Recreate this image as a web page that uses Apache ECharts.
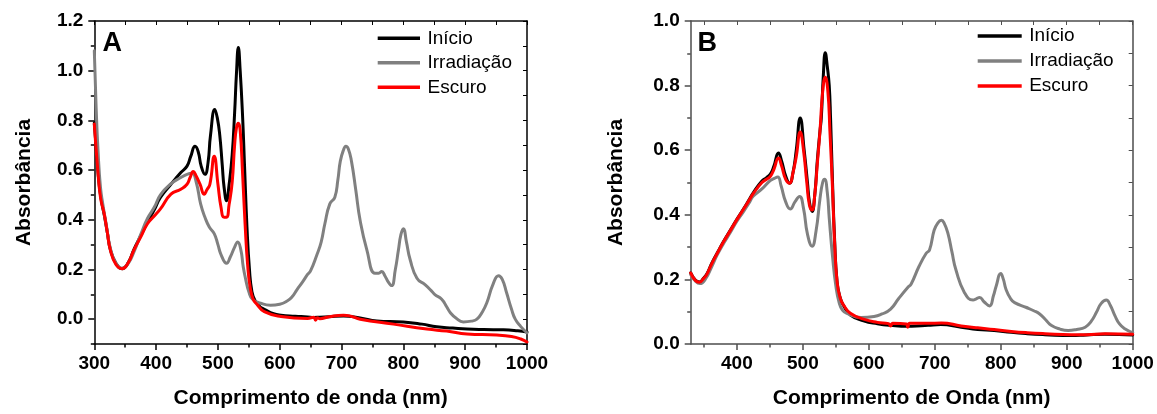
<!DOCTYPE html>
<html><head><meta charset="utf-8">
<script src="https://cdn.jsdelivr.net/npm/echarts@6/dist/echarts.min.js"></script>
<style>html,body{margin:0;padding:0;background:#fff}#c{width:1157px;height:414px}</style>
</head><body><div id="c"></div>
<script>
// ---------- DATA ----------
const seriesNames = ['Início', 'Irradiação', 'Escuro'];
const seriesColors = ['#000000', '#808080', '#ff0000'];
const panelLabels = ['A', 'B'];
const xTitles = ['Comprimento de onda (nm)', 'Comprimento de Onda (nm)'];
const yTitle = 'Absorbância';

// Panel A ticks
const aXMajor = [300, 400, 500, 600, 700, 800, 900, 1000];
const aXMinor = [350, 450, 550, 650, 750, 850, 950];
const aYMajor = [0, 0.2, 0.4, 0.6, 0.8, 1.0, 1.2];
const aYMinor = [-0.1, 0.1, 0.3, 0.5, 0.7, 0.9, 1.1];
// Panel B ticks
const bXMajor = [400, 500, 600, 700, 800, 900, 1000];
const bXMinor = [350, 450, 550, 650, 750, 850, 950];
const bYMajor = [0, 0.2, 0.4, 0.6, 0.8, 1.0];
const bYMinor = [0.1, 0.3, 0.5, 0.7, 0.9];

// Panel A - Início
const aInicioX = [300,304,308,312,316,321,326,335,345,355,364,375,386,397,407,424,440,450,456,463,468,473,479,484,488,495,499,503,507,510,514,518,523,527,530,533,536,540,543,547,551,555,560,568,575,590,602,625,645,655,665,680,703,730,757,800,830,854,880,903,930,962,985,1000];
const aInicioY = [0.79,0.66,0.54,0.47,0.42,0.35,0.28,0.225,0.203,0.228,0.28,0.335,0.39,0.44,0.49,0.543,0.59,0.616,0.655,0.696,0.675,0.615,0.583,0.63,0.74,0.844,0.81,0.74,0.62,0.53,0.477,0.54,0.66,0.83,0.99,1.093,1.0,0.81,0.62,0.37,0.2,0.11,0.075,0.05,0.04,0.022,0.016,0.012,0.009,0.007,0.008,0.01,0.013,0.005,-0.007,-0.011,-0.02,-0.031,-0.036,-0.04,-0.042,-0.043,-0.047,-0.052];
// Panel A - Irradiação
const aIrradX = [300,303,306,310,314,320,326,335,345,355,364,375,386,397,407,424,440,450,458,465,472,479,486,494,500,505,514,520,527,532,537,541,545,550,556,569,585,600,612,620,628,637,645,650,660,667,673,681,689,694,698,703,707,711,716,723,730,741,754,760,765,770,776,781,787,792,796,800,805,811,822,835,845,851,862,870,876,885,897,910,919,928,935,945,954,960,967,975,981,990,1000];
const aIrradY = [1.08,0.85,0.68,0.53,0.46,0.37,0.285,0.225,0.205,0.225,0.27,0.34,0.405,0.45,0.50,0.545,0.57,0.583,0.587,0.55,0.464,0.41,0.371,0.344,0.30,0.26,0.225,0.25,0.29,0.311,0.28,0.21,0.159,0.11,0.08,0.064,0.056,0.06,0.073,0.09,0.119,0.15,0.18,0.195,0.258,0.31,0.384,0.464,0.49,0.56,0.636,0.68,0.696,0.685,0.636,0.52,0.398,0.278,0.185,0.185,0.192,0.175,0.148,0.135,0.2,0.278,0.34,0.364,0.31,0.239,0.165,0.139,0.115,0.099,0.08,0.05,0.026,0.005,-0.011,-0.008,0.0,0.03,0.066,0.14,0.175,0.16,0.106,0.04,0.0,-0.03,-0.055];
// Panel A - Escuro
const aEscuroX = [300,305,310,316,321,326,335,345,355,364,375,386,397,407,424,440,450,455,460,465,471,478,482,487,494,500,505,510,514,518,523,527,530,533,536,540,544,548,552,557,563,575,602,645,655,658,661,665,680,703,715,730,784,838,870,903,951,975,990,1000];
const aEscuroY = [0.785,0.62,0.49,0.424,0.35,0.278,0.22,0.203,0.228,0.278,0.33,0.384,0.415,0.444,0.503,0.523,0.543,0.57,0.594,0.575,0.543,0.503,0.52,0.543,0.656,0.543,0.45,0.41,0.41,0.46,0.55,0.70,0.77,0.788,0.76,0.58,0.38,0.22,0.13,0.08,0.06,0.03,0.011,0.003,0.008,-0.004,0.006,0.002,0.01,0.016,0.012,0.0,-0.02,-0.04,-0.048,-0.06,-0.064,-0.07,-0.08,-0.092];

// Panel B - Início
const bInicioX = [330,337,343,350,354,362,370,380,390,400,410,418,425,438,445,451,456,463,468,474,480,485,490,496,502,507,510,514,518,522,526,528,531,534,537,540,542,545,548,552,557,562,572,592,613,633,659,665,690,709,740,765,790,816,840,867,907,930,958,1000];
const bInicioY = [0.22,0.198,0.192,0.205,0.215,0.25,0.281,0.318,0.352,0.386,0.418,0.445,0.469,0.505,0.515,0.527,0.55,0.591,0.565,0.52,0.498,0.53,0.60,0.70,0.60,0.50,0.44,0.41,0.46,0.57,0.66,0.70,0.83,0.902,0.86,0.80,0.70,0.50,0.33,0.19,0.14,0.118,0.09,0.072,0.063,0.058,0.055,0.055,0.058,0.06,0.052,0.045,0.042,0.036,0.032,0.029,0.026,0.028,0.03,0.028];
// Panel B - Irradiação
const bIrradX = [330,337,344,352,362,370,380,390,400,410,418,425,438,450,456,462,467,474,481,488,495,501,507,514,520,526,530,533,537,540,545,550,555,560,567,588,608,620,633,645,659,664,676,687,692,699,704,710,714,720,726,732,745,758,763,768,775,783,789,793,800,804,808,815,821,839,850,859,868,877,890,902,915,928,937,945,952,960,966,973,980,988,1000];
const bIrradY = [0.215,0.195,0.187,0.2,0.24,0.275,0.312,0.345,0.38,0.41,0.435,0.458,0.48,0.505,0.512,0.517,0.49,0.44,0.418,0.44,0.457,0.42,0.34,0.303,0.35,0.45,0.50,0.51,0.47,0.39,0.271,0.18,0.128,0.105,0.095,0.082,0.085,0.093,0.108,0.14,0.175,0.185,0.24,0.281,0.291,0.352,0.373,0.383,0.375,0.342,0.285,0.23,0.159,0.136,0.14,0.144,0.13,0.118,0.15,0.179,0.218,0.2,0.169,0.14,0.128,0.113,0.103,0.093,0.075,0.057,0.046,0.042,0.045,0.052,0.07,0.098,0.125,0.136,0.12,0.088,0.062,0.047,0.035];
// Panel B - Escuro
const bEscuroX = [330,337,343,350,354,362,370,380,390,400,410,418,425,438,445,451,456,463,468,474,480,485,490,496,501,506,510,514,518,522,526,530,534,538,541,545,548,552,557,562,572,592,613,630,633,636,657,659,662,690,710,740,765,790,816,840,867,907,930,958,1000];
const bEscuroY = [0.22,0.197,0.191,0.204,0.214,0.249,0.28,0.317,0.351,0.385,0.417,0.443,0.466,0.5,0.51,0.52,0.54,0.576,0.55,0.51,0.498,0.53,0.58,0.656,0.60,0.50,0.43,0.415,0.46,0.56,0.66,0.78,0.826,0.78,0.66,0.48,0.32,0.19,0.14,0.12,0.095,0.077,0.067,0.063,0.056,0.064,0.062,0.052,0.064,0.064,0.065,0.056,0.05,0.045,0.039,0.035,0.032,0.029,0.029,0.032,0.03];

// ---------- CHART ----------
const FONT = '"Liberation Sans", Arial, sans-serif';
const zip = (xs, ys) => xs.map((x, i) => [x, ys[i]]);

const grids = [
  { left: 94.3, top: 21, width: 432.7, height: 327.3 },
  { left: 690.7, top: 21, width: 442, height: 327.7 }
];

function xAxes(g, min, max, major, minor, color, title) {
  const all = major.concat(minor).sort((a, b) => a - b);
  const base = { type: 'value', gridIndex: g, min, max, splitLine: { show: false }, axisPointer: { show: false } };
  return [
    Object.assign({}, base, {
      position: 'bottom',
      axisLine: { show: true, onZero: false, lineStyle: { color, width: 1.5 } },
      axisTick: { show: true, inside: false, length: 6, customValues: major, lineStyle: { color, width: 1.5 } },
      axisLabel: { show: true, customValues: major, margin: 10, color: '#000', fontSize: 19, fontWeight: 'bold', fontFamily: FONT, formatter: v => String(Math.round(v)) },
      name: title, nameLocation: 'middle', nameGap: 44,
      nameTextStyle: { color: '#000', fontSize: 21, fontWeight: 'bold', fontFamily: FONT }
    }),
    Object.assign({}, base, {
      position: 'bottom',
      axisLine: { show: false, onZero: false },
      axisTick: { show: true, inside: false, length: 3.5, customValues: minor, lineStyle: { color, width: 1.5 } },
      axisLabel: { show: false }
    }),
    Object.assign({}, base, {
      position: 'top',
      axisLine: { show: true, onZero: false, lineStyle: { color, width: 1.5 } },
      axisTick: { show: true, inside: true, length: 4, customValues: all, lineStyle: { color, width: 1 } },
      axisLabel: { show: false }
    })
  ];
}
function yAxes(g, min, max, major, minor, color, gap) {
  const all = major.concat(minor).sort((a, b) => a - b);
  const base = { type: 'value', gridIndex: g, min, max, splitLine: { show: false }, axisPointer: { show: false } };
  return [
    Object.assign({}, base, {
      position: 'left',
      axisLine: { show: true, onZero: false, lineStyle: { color, width: 1.5 } },
      axisTick: { show: true, inside: false, length: 6, customValues: major, lineStyle: { color, width: 1.5 } },
      axisLabel: { show: true, customValues: major, margin: 11, color: '#000', fontSize: 19, fontWeight: 'bold', fontFamily: FONT, formatter: v => v.toFixed(1) },
      name: yTitle, nameLocation: 'middle', nameGap: gap,
      nameTextStyle: { color: '#000', fontSize: 21, fontWeight: 'bold', fontFamily: FONT }
    }),
    Object.assign({}, base, {
      position: 'left',
      axisLine: { show: false, onZero: false },
      axisTick: { show: true, inside: false, length: 3.5, customValues: minor, lineStyle: { color, width: 1.5 } },
      axisLabel: { show: false }
    }),
    Object.assign({}, base, {
      position: 'right',
      axisLine: { show: true, onZero: false, lineStyle: { color, width: 1.5 } },
      axisTick: { show: true, inside: true, length: 4, customValues: all, lineStyle: { color, width: 1 } },
      axisLabel: { show: false }
    })
  ];
}

const axisColA = '#000000', axisColB = '#4d4d4d';
const xAxis = xAxes(0, 300, 1000, aXMajor, aXMinor, axisColA, xTitles[0])
  .concat(xAxes(1, 330, 1000, bXMajor, bXMinor, axisColB, xTitles[1]));
const yAxis = yAxes(0, -0.1, 1.2, aYMajor, aYMinor, axisColA, 60)
  .concat(yAxes(1, 0, 1.0, bYMajor, bYMinor, axisColB, 64));

const panelData = [
  [zip(aInicioX, aInicioY), zip(aIrradX, aIrradY), zip(aEscuroX, aEscuroY)],
  [zip(bInicioX, bInicioY), zip(bIrradX, bIrradY), zip(bEscuroX, bEscuroY)]
];
const series = [];
panelData.forEach((sets, p) => {
  sets.forEach((d, k) => {
    series.push({
      type: 'line', name: seriesNames[k], data: d,
      xAxisIndex: p * 3, yAxisIndex: p * 3,
      smooth: 0.5, showSymbol: false, symbol: 'none',
      lineStyle: { color: seriesColors[k], width: 3, join: 'round', cap: 'round' },
      itemStyle: { color: seriesColors[k] },
      emphasis: { disabled: true }, silent: true, z: 2 + k
    });
  });
});

const legendBase = {
  orient: 'vertical', icon: 'rect', itemHeight: 3.5, itemGap: 5.5,
  padding: 0, selectedMode: false, data: seriesNames,
  textStyle: { color: '#000', fontSize: 19, fontFamily: FONT, padding: [0, 0, 0, 2.5] }
};
const legend = [
  Object.assign({}, legendBase, { left: 377.7, top: 28.8, itemWidth: 42.3 }),
  Object.assign({}, legendBase, { left: 977.7, top: 26.5, itemWidth: 44, itemGap: 6 })
];

const title = [
  { text: panelLabels[0], left: 102.5, top: 30, padding: 0, textStyle: { fontSize: 27, fontWeight: 'bold', fontFamily: FONT, color: '#000' } },
  { text: panelLabels[1], left: 697.5, top: 30, padding: 0, textStyle: { fontSize: 27, fontWeight: 'bold', fontFamily: FONT, color: '#000' } }
];

const chart = echarts.init(document.getElementById('c'), null, { renderer: 'canvas' });
chart.setOption({
  animation: false, backgroundColor: '#ffffff',
  title, legend, grid: grids, xAxis, yAxis, series
});
</script></body></html>
